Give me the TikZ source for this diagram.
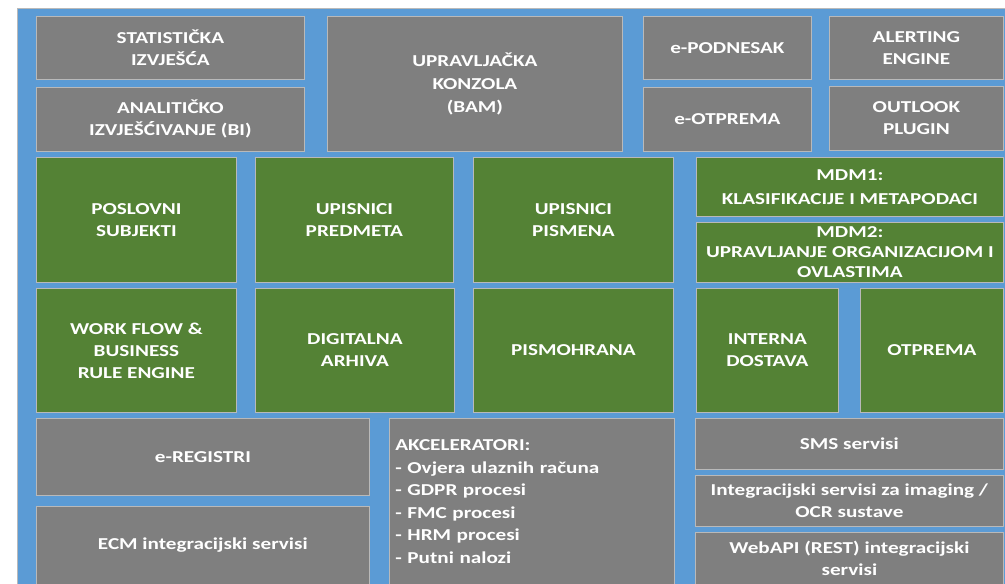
\documentclass[tikz,border=0pt]{standalone}
\usepackage{fontspec}
\setmainfont{Carlito}[FakeStretch=1.27]
\definecolor{bgblue}{RGB}{91,155,213}
\definecolor{boxgray}{RGB}{127,127,127}
\definecolor{boxgreen}{RGB}{84,130,53}
\definecolor{boxline}{RGB}{185,185,185}
\tikzset{
  box/.style={draw=boxline, line width=0.6pt, inner sep=0pt, anchor=north west,
    text=white, font=\bfseries\fontsize{12.5}{16.5}\selectfont, align=center},
  graybox/.style={box, fill=boxgray},
  greenbox/.style={box, fill=boxgreen},
}
\newcommand\placebox[7]{\node[#2, minimum width={(#5-#3)*0.75pt}, minimum height={(#6-#4)*0.75pt}] (#1) at (#3,#4) {#7};}
\begin{document}
\begin{tikzpicture}[x=0.75pt,y=-0.75pt]
\useasboundingbox (0,0) rectangle (1005,584);
\fill[white] (0,0) rectangle (1005,584);
\fill[bgblue] (17,8) rectangle (1005,584);
\draw[boxline, line width=0.6pt] (17,584) -- (17,8) -- (1005,8);
% top band
\placebox{stat}{graybox}{36}{16}{304}{79}{STATISTIČKA\\IZVJEŠĆA}
\placebox{anal}{graybox}{36}{87}{304}{151}{ANALITIČKO\\IZVJEŠĆIVANJE (BI)}
\placebox{upr}{graybox,font=\bfseries\fontsize{12.5}{17.3}\selectfont}{327}{16}{622}{151}{UPRAVLJAČKA\\KONZOLA\\(BAM)}
\placebox{epod}{graybox}{643}{16}{811}{79}{e-PODNESAK}
\placebox{eotp}{graybox}{643}{87}{811}{151}{e-OTPREMA}
\placebox{alert}{graybox}{829}{16}{1003}{79}{ALERTING\\ENGINE}
\placebox{outl}{graybox}{829}{86}{1003}{150}{OUTLOOK\\PLUGIN}
% green middle
\placebox{posl}{greenbox}{36}{157}{236}{282}{POSLOVNI\\SUBJEKTI}
\placebox{upred}{greenbox}{255}{157}{453}{282}{UPISNICI\\PREDMETA}
\placebox{upism}{greenbox}{473}{157}{673}{282}{UPISNICI\\PISMENA}
\placebox{mdma}{greenbox,font=\bfseries\fontsize{12.5}{18}\selectfont}{696}{157}{1003}{216}{MDM1:\\KLASIFIKACIJE I METAPODACI}
\placebox{mdmb}{greenbox,font=\bfseries\fontsize{12.5}{15}\selectfont}{696}{222}{1003}{282}{MDM2:\\UPRAVLJANJE ORGANIZACIJOM I\\OVLASTIMA}
\placebox{wf}{greenbox}{36}{288}{236}{412}{WORK FLOW \&\\BUSINESS\\RULE ENGINE}
\placebox{darh}{greenbox}{255}{288}{454}{412}{DIGITALNA\\ARHIVA}
\placebox{pismo}{greenbox}{473}{288}{673}{412}{PISMOHRANA}
\placebox{intd}{greenbox}{696}{288}{838}{412}{INTERNA\\DOSTAVA}
\placebox{otpr}{greenbox}{860}{288}{1003}{412}{OTPREMA}
% bottom band
\placebox{ereg}{graybox}{36}{418}{369}{495}{e-REGISTRI}
\placebox{ecm}{graybox}{36}{506}{369}{584}{ECM integracijski servisi}
\placebox{akc}{graybox,align=left,inner xsep=6*0.75pt,text width={(674-389-12)*0.75pt},font=\bfseries\fontsize{12.5}{16.9}\selectfont}{389}{418}{674}{584}{AKCELERATORI:\\- Ovjera ulaznih računa\\- GDPR procesi\\- FMC procesi\\- HRM procesi\\- Putni nalozi}
\placebox{sms}{graybox}{695}{418}{1003}{469}{SMS servisi}
\placebox{imag}{graybox}{695}{475}{1003}{526}{Integracijski servisi za imaging /\\OCR sustave}
\placebox{web}{graybox}{695}{532}{1003}{584}{WebAPI (REST) integracijski\\servisi}
\end{tikzpicture}
\end{document}
